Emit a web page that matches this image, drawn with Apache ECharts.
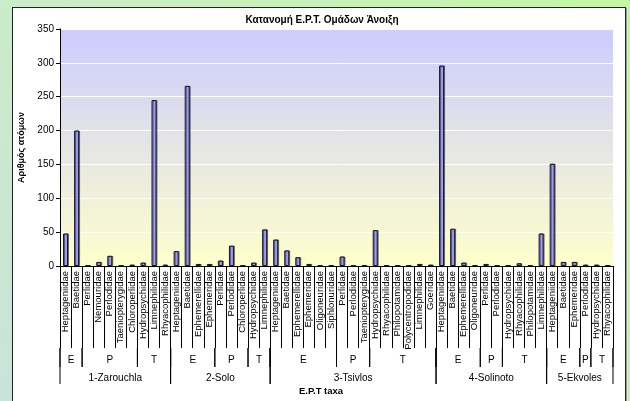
<!DOCTYPE html>
<html>
<head>
<meta charset="utf-8">
<script src="https://cdn.jsdelivr.net/npm/echarts@6/dist/echarts.min.js"></script>
<style>
  html, body { margin: 0; padding: 0; }
  body {
    width: 630px; height: 401px; overflow: hidden; position: relative;
    background: linear-gradient(45deg, #c9e3da 0%, #cbeec4 50%, #c3f7a4 100%);
  }
  #frame {
    position: absolute; left: 12px; top: 7px; width: 612px; height: 400px;
    background: #fff; border: 1.5px solid #222; box-shadow: 1px 1px 0 #999;
  }
  #chart { position: absolute; left: 0; top: 0; width: 630px; height: 401px; }
</style>
</head>
<body>
<div id="frame"></div>
<div id="chart"></div>
<script>
// sites and the E / P / T group sizes inside each site
var sites = ['1-Zarouchla', '2-Solo', '3-Tsivlos', '4-Solinoto', '5-Ekvoles']
var orderNames = ['E', 'P', 'T']
var orderSizes = [[2, 5, 3], [4, 3, 2], [6, 3, 6], [4, 2, 4], [3, 1, 2]]

var taxa = [
  // 1-Zarouchla
  'Heptageniidae', 'Baetidae',
  'Perlidae', 'Nemouridae', 'Perlodidae', 'Taeniopterygidae', 'Chloroperlidae',
  'Hydropsychidae', 'Limnephilidae', 'Rhyacophilidae',
  // 2-Solo
  'Heptageniidae', 'Baetidae', 'Ephemerellidae', 'Ephemeridae',
  'Perlidae', 'Perlodidae', 'Chloroperlidae',
  'Hydropsychidae', 'Limnephilidae',
  // 3-Tsivlos
  'Heptageniidae', 'Baetidae', 'Ephemerellidae', 'Ephemeridae', 'Oligoneuridae', 'Siphlonuridae',
  'Perlidae', 'Perlodidae', 'Taeniopterygidae',
  'Hydropsychidae', 'Rhyacophilidae', 'Philopotamidae', 'Polycentropodidae', 'Limnephilidae', 'Goeridae',
  // 4-Solinoto
  'Heptageniidae', 'Baetidae', 'Ephemerellidae', 'Oligoneuridae',
  'Perlidae', 'Perlodidae',
  'Hydropsychidae', 'Rhyacophilidae', 'Philopotamidae', 'Limnephilidae',
  // 5-Ekvoles
  'Heptageniidae', 'Baetidae', 'Ephemeridae',
  'Perlodidae',
  'Hydropsychidae', 'Rhyacophilidae'
]

var counts = [
  48, 200, 1, 6, 15, 1, 2, 5, 245, 2,
  22, 266, 3, 3, 8, 30, 1, 5, 54,
  39, 23, 13, 3, 1, 1, 14, 1, 1, 53, 1, 1, 1, 3, 2,
  296, 55, 5, 1, 3, 1, 1, 4, 1, 48,
  151, 6, 6, 2, 2, 1
]

var yTicks = { min: 0, max: 350, interval: 50 }

// spans for the 2nd (E/P/T) and 3rd (site) label rows
var spans = []
var pos = 0
sites.forEach(function(site, s) {
  var start = pos
  orderSizes[s].forEach(function(n, k) {
    spans.push({ value: [pos, pos + n, 2], name: orderNames[k] })
    pos += n
  })
  spans.push({ value: [start, pos, 3], name: site })
})

var font = 'Liberation Sans, Arial, sans-serif'
var chart = echarts.init(document.getElementById('chart'))

chart.setOption({
  backgroundColor: 'transparent',
  animation: false,
  title: [
    {
      text: 'Κατανομή Ε.Ρ.Τ. Ομάδων Άνοιξη',
      left: 317,
      top: 10,
      textAlign: 'center',
      textStyle: { fontFamily: font, fontSize: 10, fontWeight: 'bold', color: '#000' }
    },
    {
      text: 'E.P.T taxa',
      left: 316,
      top: 381,
      textAlign: 'center',
      textStyle: { fontFamily: font, fontSize: 9.5, fontWeight: 'bold', color: '#000' }
    }
  ],
  grid: {
    left: 60,
    right: 17,
    top: 29,
    bottom: 135,
    show: true,
    borderWidth: 0,
    backgroundColor: new echarts.graphic.LinearGradient(0, 0, 0, 1, [
      { offset: 0, color: '#ccccff' },
      { offset: 1, color: '#ffffcc' }
    ])
  },
  xAxis: [
    {
      type: 'category',
      data: taxa,
      boundaryGap: true,
      axisLine: { lineStyle: { color: '#000', width: 1 } },
      axisTick: { show: true, interval: 0, length: 82, lineStyle: { color: '#000', width: 1 } },
      axisLabel: {
        interval: 0,
        rotate: 90,
        margin: 5,
        fontFamily: font,
        fontSize: 9.5,
        color: '#000'
      },
      splitLine: { show: false }
    },
    {
      type: 'value',
      min: 0,
      max: taxa.length,
      show: false
    }
  ],
  yAxis: {
    type: 'value',
    min: yTicks.min,
    max: yTicks.max,
    interval: yTicks.interval,
    name: 'Αριθμός ατόμων',
    nameLocation: 'middle',
    nameGap: 34,
    nameTextStyle: { fontFamily: font, fontSize: 9, fontWeight: 'bold', color: '#000' },
    axisLine: { show: true, lineStyle: { color: '#000', width: 1 } },
    axisTick: { show: true, length: 4, lineStyle: { color: '#000' } },
    axisLabel: { fontFamily: font, fontSize: 10, color: '#000', margin: 6 },
    splitLine: { show: true, lineStyle: { color: '#ffffff', width: 1 } }
  },
  series: [
    {
      type: 'bar',
      data: counts,
      barWidth: 5,
      itemStyle: {
        color: '#9999ff',
        borderColor: '#1a1a1a',
        borderWidth: 1,
        shadowColor: 'rgba(0,0,0,0.45)',
        shadowOffsetX: 1,
        shadowOffsetY: 0
      }
    },
    {
      type: 'custom',
      xAxisIndex: 1,
      yAxisIndex: 0,
      clip: false,
      silent: true,
      encode: { x: [0, 1] },
      data: spans,
      renderItem: function(params, api) {
        var a = api.coord([api.value(0), 0])
        var b = api.coord([api.value(1), 0])
        var lvl = api.value(2)
        var top = a[1] + 82
        var bottom = a[1] + (lvl === 2 ? 101 : 118)
        var textY = a[1] + (lvl === 2 ? 94 : 112)
        var lineStyle = { stroke: '#000', lineWidth: 1 }
        return {
          type: 'group',
          children: [
            { type: 'line', shape: { x1: a[0], y1: top, x2: a[0], y2: bottom }, style: lineStyle },
            { type: 'line', shape: { x1: b[0], y1: top, x2: b[0], y2: bottom }, style: lineStyle },
            {
              type: 'text',
              style: {
                text: spans[params.dataIndex].name,
                x: (a[0] + b[0]) / 2,
                y: textY,
                align: 'center',
                verticalAlign: 'middle',
                font: '10px ' + font,
                fill: '#000'
              }
            }
          ]
        }
      }
    }
  ]
})
</script>
</body>
</html>
